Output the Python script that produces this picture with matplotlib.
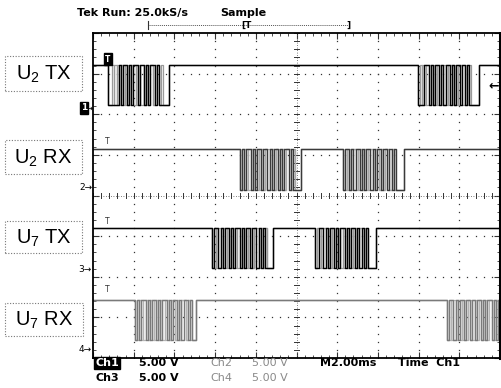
import numpy as np
import matplotlib.pyplot as plt
from matplotlib.patches import Rectangle
from matplotlib.lines import Line2D

plt.rcParams['font.family'] = ['DejaVu Sans']
plt.rcParams['mathtext.fontset'] = 'custom'
plt.rcParams['mathtext.rm'] = 'Liberation Sans'

# 屏幕: 10 格 x 2 ms, 8 格竖直
t_end = 20.0
bit_ms = 0.104

channels = ['U$_2$ TX', 'U$_2$ RX', 'U$_7$ TX', 'U$_7$ RX']
marker_txt = ['1', '2', '3', '4']
high_div = [7.22, 5.15, 3.2, 1.43]
low_div = [6.23, 4.14, 2.22, 0.44]
trace_colors = ['black', '#3a3a3a', 'black', '#7a7a7a']
ghost_colors = ['#9a9a9a', '#a8a8a8', '#9a9a9a', '#b4b4b4']

# 每段数据突发的起点 (ms) 和位序列 (余辉叠加的三帧)
burst_start = [[0.74, 15.97], [7.22, 12.28], [5.85, 10.91], [2.06, 17.4]]
burst_bits = [
    ['00000101101011011010110100000', '00011010110101101011010100000'],
    ['01011010110110101101011010000', '01101011010110101101101010000'],
    ['01101011010110101101101010000', '00110101101011010110101010000'],
    ['01011010110101101011010110100', '01101011011010110101101011010'],
]
burst_ghost = [
    ['00101011010110100101101100000', '01010110101101011010110100000'],
    ['00110101101011010110101101000', '01010110101101011010110100000'],
    ['01010110101101011010110101000', '01011010110101101011010100000'],
    ['00110101101011010110101101100', '01010110101101011010110101010'],
]
burst_ghost2 = [
    ['00010110101101011010101101000', '00101101011010110101101010000'],
    ['01101101011010110101101101000', '00101101101011011010110100000'],
    ['00101101011011010110101101000', '01101101011010101101011010000'],
    ['01101101011010110110101101000', '00101101011010110101101101101'],
]

# 画布与坐标区
fig = plt.figure(figsize=(5.01, 3.88), dpi=100)
W, H = 501.0, 388.0
ax = fig.add_axes([93 / W, 1 - 358 / H, 407 / W, 325 / H])
ax.set_xlim(0, t_end)
ax.set_ylim(0, 8)

# 网格点
gx = np.arange(0, t_end + 0.01, 0.4)
gy = np.arange(0, 8.01, 0.2)
for xv in np.arange(2, t_end, 2):
    if xv != 10:
        ax.plot(np.full_like(gy, xv), gy, ls='none', marker='s', ms=0.9,
                mec='none', mfc='#333333')
for yv in np.arange(1, 8):
    if yv != 4:
        ax.plot(gx, np.full_like(gx, yv), ls='none', marker='s', ms=0.9,
                mec='none', mfc='#333333')
# 中心十字
ax.axvline(10, color='#555555', lw=0.6, ls=(0, (1, 2)))
ax.axhline(4, color='#555555', lw=0.6, ls=(0, (1, 2)))
for xv in gx:
    ax.plot([xv, xv], [3.95, 4.05], color='#333333', lw=0.7)
for yv in gy:
    ax.plot([9.9, 10.1], [yv, yv], color='#333333', lw=0.7)

ax.set_xticks(np.arange(0, t_end + 0.01, 2))
ax.set_xticks(gx, minor=True)
ax.set_yticks(np.arange(0, 9))
ax.set_yticks(gy, minor=True)
ax.tick_params(which='both', direction='in', top=True, right=True,
               labelbottom=False, labelleft=False, color='#333333')
ax.tick_params(which='major', length=4, width=0.8)
ax.tick_params(which='minor', length=2, width=0.6)
for s in ax.spines.values():
    s.set_linewidth(1.3)
ax.spines['right'].set_linewidth(2.2)


def wave(starts, bit_lists, hi, lo):
    xs, ys = [0.0], [hi]
    for t0, bits in zip(starts, bit_lists):
        for i, b in enumerate(bits):
            xs.append(t0 + i * bit_ms)
            ys.append(hi if b == '1' else lo)
        xs.append(t0 + len(bits) * bit_ms)
        ys.append(hi)
    xs.append(t_end)
    ys.append(hi)
    return xs, ys


for k in range(4):
    for ghosts in (burst_ghost2, burst_ghost):
        gxs, gys = wave(burst_start[k], ghosts[k], high_div[k], low_div[k])
        ax.plot(gxs, gys, drawstyle='steps-post', color=ghost_colors[k], lw=0.9)
    xs, ys = wave(burst_start[k], burst_bits[k], high_div[k], low_div[k])
    ax.plot(xs, ys, drawstyle='steps-post', color=trace_colors[k], lw=1.0)

# 触发标记
fig.text(108 / W, 1 - 59 / H, 'T', color='white', fontsize=5.5, weight='bold',
         ha='center', va='center',
         bbox=dict(boxstyle='square,pad=0.15', fc='black', ec='black'))
for k, yp in zip([1, 2, 3], [142, 222, 290]):
    fig.text(107 / W, 1 - yp / H, 'T', color='#333333', fontsize=5.5,
             ha='center', va='center')
fig.text(499 / W, 1 - 86 / H, '\u2190', fontsize=9, weight='bold',
         ha='right', va='center')

# 通道零点标记
mark_y = [108, 187, 270, 350]
for k in range(4):
    fy = 1 - mark_y[k] / H
    if k == 0:
        fig.text(84 / W, fy, '1', color='white', fontsize=6.5, weight='bold',
                 ha='center', va='center',
                 bbox=dict(boxstyle='square,pad=0.15', fc='black', ec='black'))
        fig.text(93 / W, fy, '\u2192', fontsize=6, ha='right', va='center')
    else:
        fig.text(92 / W, fy, marker_txt[k] + '\u2192', fontsize=6.5,
                 ha='right', va='center')

# 左侧标签
label_box = [(5, 56, 77, 35), (5, 140, 77, 34), (5, 221, 77, 32), (5, 303, 78, 33)]
for name, (bx, by, bw, bh) in zip(channels, label_box):
    fig.add_artist(Rectangle((bx / W, 1 - (by + bh) / H), bw / W, bh / H,
                             transform=fig.transFigure, fill=False,
                             ec='#777777', lw=0.8, ls=(0, (1, 1.5))))
    fig.text((bx + bw / 2) / W, 1 - (by + bh / 2 + 1) / H, name, fontsize=14.5,
             family='Liberation Sans', ha='center', va='center')

# 顶部状态栏
fig.text(77 / W, 1 - 13 / H, 'Tek Run: 25.0kS/s', fontsize=8, weight='bold',
         va='center')
fig.text(220 / W, 1 - 13 / H, 'Sample', fontsize=8, weight='bold', va='center')
fig.add_artist(Line2D([148 / W, 348 / W], [1 - 25 / H, 1 - 25 / H],
                      transform=fig.transFigure, color='#555555', lw=0.7,
                      ls=(0, (1, 1))))
fig.add_artist(Line2D([148 / W, 148 / W], [1 - 21 / H, 1 - 29 / H],
                      transform=fig.transFigure, color='#333333', lw=0.8))
fig.text(246 / W, 1 - 25 / H, '[T', fontsize=6.5, weight='bold',
         ha='center', va='center')
fig.text(348 / W, 1 - 25 / H, ']', fontsize=6.5, weight='bold',
         ha='center', va='center')

# 底部设置
row1, row2 = 1 - 363 / H, 1 - 378 / H
fig.text(95 / W, row1, 'Ch1', color='white', fontsize=8, weight='bold',
         va='center', bbox=dict(boxstyle='square,pad=0.1', fc='black', ec='black'))
fig.text(139 / W, row1, '5.00 V', fontsize=8, weight='bold', va='center')
fig.text(210 / W, row1, 'Ch2', fontsize=8, color='#8a8a8a', va='center')
fig.text(252 / W, row1, '5.00 V', fontsize=8, color='#8a8a8a', va='center')
fig.text(320 / W, row1, 'M2.00ms', fontsize=8, weight='bold', va='center')
fig.text(398 / W, row1, 'Time  Ch1', fontsize=8, weight='bold', va='center')
fig.text(95 / W, row2, 'Ch3', fontsize=8, weight='bold', va='center')
fig.text(139 / W, row2, '5.00 V', fontsize=8, weight='bold', va='center')
fig.text(210 / W, row2, 'Ch4', fontsize=8, color='#8a8a8a', va='center')
fig.text(252 / W, row2, '5.00 V', fontsize=8, color='#8a8a8a', va='center')

fig.savefig('out.png', dpi=100)
